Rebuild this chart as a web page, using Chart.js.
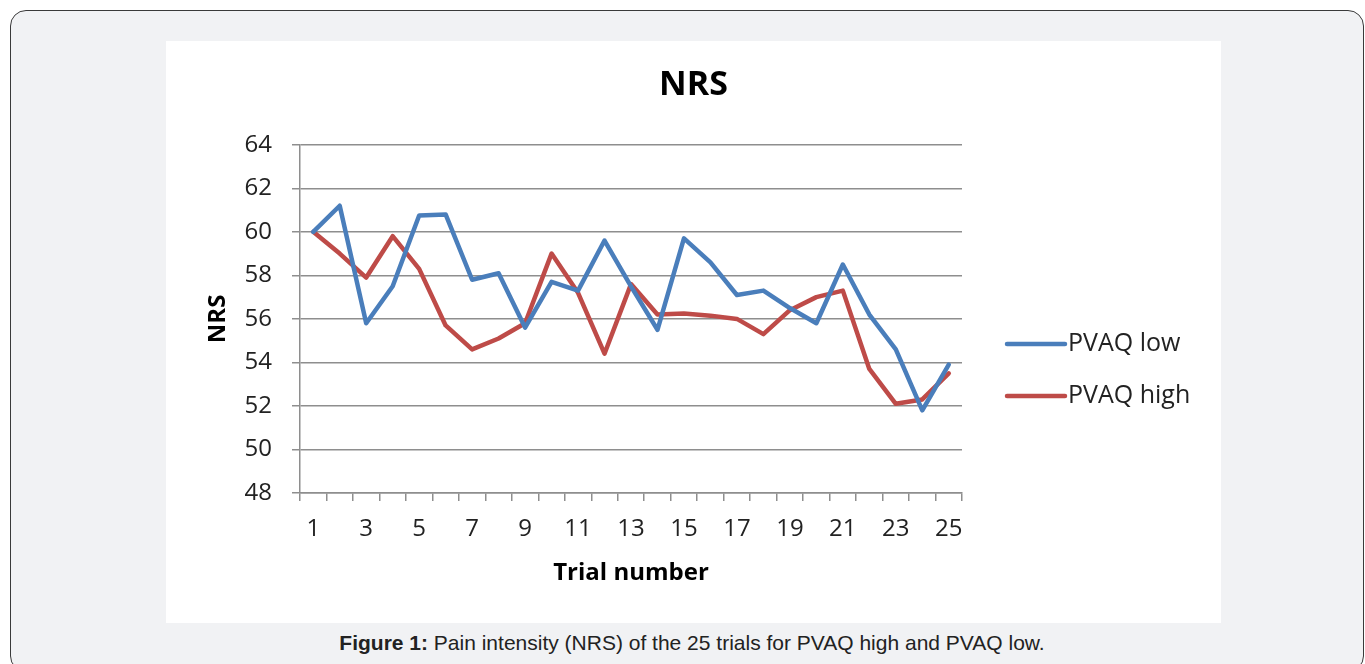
<!DOCTYPE html>
<html>
<head>
<meta charset="utf-8">
<script src="https://cdn.jsdelivr.net/npm/chart.js@4.4.1/dist/chart.umd.min.js"></script>
<style>
  html, body { margin: 0; padding: 0; background: #ffffff; }
  body { width: 1365px; height: 664px; position: relative; overflow: hidden; }
  #panel {
    position: absolute; left: 10px; top: 10px; width: 1352px; height: 660px;
    background: #f1f2f4; border: 1.5px solid #3a3a3a; border-radius: 16px;
  }
  #card { position: absolute; left: 166px; top: 41px; width: 1055px; height: 582px; background: #ffffff; }
  #caption {
    position: absolute; left: 0; width: 1384px; top: 631px; text-align: center;
    font-family: "Liberation Sans", Arial, sans-serif; font-size: 21px; color: #222;
  }
</style>
</head>
<body>
<div id="panel"></div>
<div id="card"><canvas id="nrsChart" width="1055" height="582"></canvas></div>
<div id="caption"><b>Figure 1:</b> Pain intensity (NRS) of the 25 trials for PVAQ high and PVAQ low.</div>
<script>
// Trial numbers on the x axis
const trials = ['1','2','3','4','5','6','7','8','9','10','11','12','13','14','15','16','17','18','19','20','21','22','23','24','25'];

// NRS per trial
const pvaqLow = [60.0, 61.2, 55.8, 57.5, 60.75, 60.8, 57.8, 58.1, 55.6, 57.7, 57.3, 59.6, 57.5,
	55.5, 59.7, 58.6, 57.1, 57.3, 56.5, 55.8, 58.5, 56.2, 54.6, 51.8, 53.9];
const pvaqHigh = [60.0, 59.0, 57.9, 59.8, 58.3, 55.7, 54.6, 55.1, 55.8, 59.0, 57.2, 54.4, 57.6,
	56.2, 56.25, 56.15, 56.0, 55.3, 56.4, 57.0, 57.3, 53.7, 52.1, 52.3, 53.5];

const yMin = 48;
const yMax = 64;
const yStep = 2;

const fontFamily = '"Open Sans", "Liberation Sans", sans-serif';
const gridColor = '#8e8e8e';

// Legend drawn at the right, Excel style (line sample + label)
const sideLegend = {
	id: 'sideLegend',
	afterDraw(chart) {
		const ctx = chart.ctx;
		ctx.save();
		chart.data.datasets.forEach((ds, i) => {
			const y = 303 + i * 52;
			ctx.strokeStyle = ds.borderColor;
			ctx.lineWidth = 4.5;
			ctx.lineCap = 'round';
			ctx.beginPath();
			ctx.moveTo(841, y);
			ctx.lineTo(899, y);
			ctx.stroke();
			ctx.fillStyle = '#222';
			ctx.font = '25px ' + fontFamily;
			ctx.textBaseline = 'middle';
			ctx.textAlign = 'left';
			ctx.fillText(ds.label, 902, y);
		});
		ctx.restore();
	}
};

const ctx = document.getElementById('nrsChart').getContext('2d');
new Chart(ctx, {
	type: 'line',
	data: {
		labels: trials,
		datasets: [
			{ label: 'PVAQ low', data: pvaqLow, borderColor: '#4a7ebb', backgroundColor: '#4a7ebb' },
			{ label: 'PVAQ high', data: pvaqHigh, borderColor: '#be4b48', backgroundColor: '#be4b48' }
		]
	},
	options: {
		responsive: false,
		animation: false,
		devicePixelRatio: 1,
		layout: { padding: 0 },
		elements: {
			line: { borderWidth: 4.5, tension: 0, borderJoinStyle: 'round', borderCapStyle: 'round' },
			point: { radius: 0, hoverRadius: 0 }
		},
		plugins: {
			legend: { display: false },
			tooltip: { enabled: false },
			title: {
				display: true,
				text: 'NRS',
				color: '#000',
				font: { family: fontFamily, size: 34, weight: 'bold' },
				padding: { top: 24, bottom: 39 }
			}
		},
		scales: {
			x: {
				offset: true,
				grid: { offset: true, drawOnChartArea: false, drawTicks: true, tickLength: 8, color: gridColor, lineWidth: 1.5 },
				border: { color: gridColor, width: 1.5 },
				ticks: {
					autoSkip: false, maxRotation: 0, padding: 14, color: '#222',
					font: { family: fontFamily, size: 24 },
					callback: (v, i) => (i % 2 === 0 ? trials[i] : '')
				},
				title: {
					display: true, text: 'Trial number', color: '#000',
					font: { family: fontFamily, size: 24, weight: 'bold' },
					padding: { top: 0, bottom: 35 }
				},
				afterFit: (scale) => { scale.height = 130; }
			},
			y: {
				min: yMin,
				max: yMax,
				grid: { color: gridColor, lineWidth: 1.5, tickLength: 8 },
				border: { color: gridColor, width: 1.5 },
				ticks: { stepSize: yStep, padding: 20, color: '#222', font: { family: fontFamily, size: 24 } },
				title: {
					display: true, text: 'NRS', color: '#000',
					font: { family: fontFamily, size: 24, weight: 'bold' },
					padding: { top: 38, bottom: 0 }
				},
				afterFit: (scale) => { scale.width = 134; }
			},
			// empty right-hand box that reserves room for the legend
			side: {
				type: 'linear',
				position: 'right',
				grid: { display: false },
				border: { display: false },
				ticks: { display: false },
				afterFit: (scale) => { scale.width = 259; }
			}
		}
	},
	plugins: [sideLegend]
});
</script>
</body>
</html>
